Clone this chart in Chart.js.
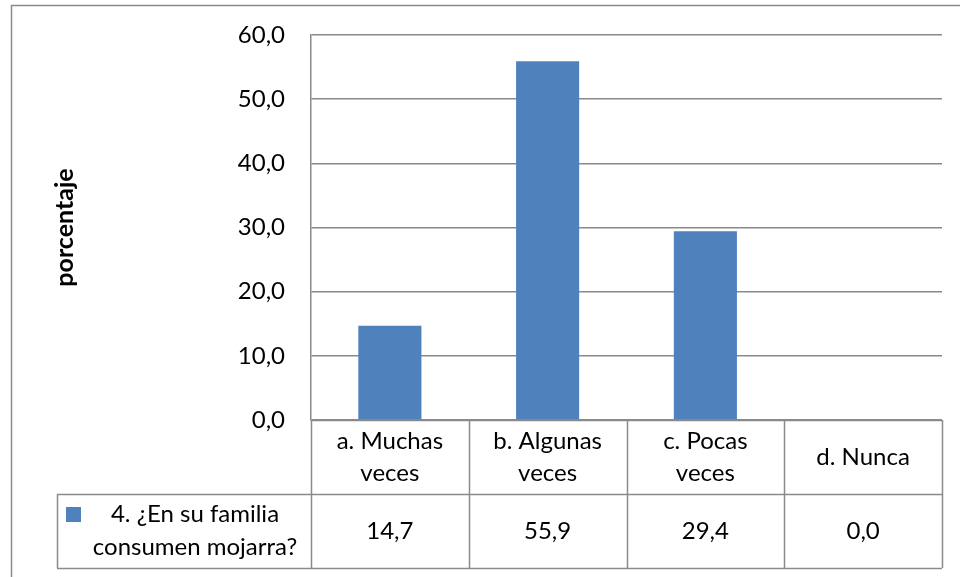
<!DOCTYPE html>
<html>
<head>
<meta charset="utf-8">
<script src="https://cdn.jsdelivr.net/npm/chart.js@4/dist/chart.umd.min.js"></script>
<style>
  html, body { margin: 0; padding: 0; background: #ffffff; }
  #wrap { width: 960px; height: 577px; position: relative; }
</style>
</head>
<body>
<div id="wrap"><canvas id="c" width="960" height="577"></canvas></div>
<script>
// Survey answers and their percentages
const categories = [
  ['a. Muchas', 'veces'],
  ['b. Algunas', 'veces'],
  ['c. Pocas', 'veces'],
  'd. Nunca'
];
const seriesName = ['4. ¿En su familia', 'consumen mojarra?'];
const values = [14.7, 55.9, 29.4, 0.0];
const yTicks = [0, 10, 20, 30, 40, 50, 60];
const yTitle = 'porcentaje';

const FONT = 'Lato, "Open Sans", sans-serif';
const FSIZE = 24;
const LINE = '#8a8a8a';
const BAR = '#4F81BD';

const fmt = v => v.toFixed(1).replace('.', ',');

// Outer chart frame (runs past the right and bottom edges)
const framePlugin = {
  id: 'frame',
  beforeDraw(chart) {
    const ctx = chart.ctx;
    ctx.save();
    ctx.strokeStyle = LINE;
    ctx.lineWidth = 1.5;
    ctx.strokeRect(11.5, 5.5, 1000, 1000);
    ctx.restore();
  }
};

// Data table beneath the plot: grid, legend key and the values row
const tablePlugin = {
  id: 'dataTable',
  afterDraw(chart) {
    const ctx = chart.ctx;
    const x = chart.scales.x;
    const area = chart.chartArea;
    const top = area.bottom;
    const mid = top + 74;
    const bot = mid + 74;
    const legendLeft = 57;
    const n = categories.length;
    const step = (area.right - area.left) / n;

    ctx.save();
    ctx.strokeStyle = LINE;
    ctx.lineWidth = 1.5;
    ctx.beginPath();
    // vertical separators between categories
    for (let i = 0; i <= n; i++) {
      const px = Math.round(area.left + i * step) + 0.5;
      ctx.moveTo(px, top);
      ctx.lineTo(px, bot);
    }
    // legend cell left edge
    ctx.moveTo(legendLeft + 0.5, mid);
    ctx.lineTo(legendLeft + 0.5, bot);
    // horizontal rules
    ctx.moveTo(area.left, top + 0.5);
    ctx.lineTo(area.right, top + 0.5);
    ctx.moveTo(legendLeft, mid + 0.5);
    ctx.lineTo(area.right, mid + 0.5);
    ctx.moveTo(legendLeft, bot + 0.5);
    ctx.lineTo(area.right, bot + 0.5);
    ctx.stroke();

    // legend key
    ctx.fillStyle = BAR;
    ctx.fillRect(66, 507, 15, 15);

    ctx.fillStyle = '#000000';
    ctx.font = FSIZE + 'px ' + FONT;
    ctx.textAlign = 'center';
    ctx.textBaseline = 'middle';
    ctx.fillText(seriesName[0], 195, 514);
    ctx.fillText(seriesName[1], 195, 547);

    // values row
    values.forEach((v, i) => {
      ctx.fillText(fmt(v), x.getPixelForValue(i), (mid + bot) / 2);
    });
    ctx.restore();
  }
};

new Chart(document.getElementById('c'), {
  type: 'bar',
  data: {
    labels: categories,
    datasets: [{
      label: seriesName.join(' '),
      data: values,
      backgroundColor: BAR,
      borderWidth: 0,
      categoryPercentage: 1.0,
      barPercentage: 0.4
    }]
  },
  options: {
    responsive: false,
    animation: false,
    devicePixelRatio: 1,
    layout: { padding: { left: 12, top: 35, right: 18, bottom: 0 } },
    plugins: {
      legend: { display: false },
      tooltip: { enabled: false }
    },
    scales: {
      x: {
        grid: { display: false, drawTicks: false },
        border: { display: false },
        ticks: {
          color: '#000000',
          font: { family: FONT, size: FSIZE, lineHeight: 1.35 },
          maxRotation: 0,
          autoSkip: false,
          padding: 21,
          crossAlign: 'center'
        },
        afterFit(scale) { scale.height = 157; }
      },
      y: {
        min: 0,
        max: 60,
        afterBuildTicks(scale) { scale.ticks = yTicks.map(v => ({ value: v })); },
        grid: { color: LINE, lineWidth: 1.5, drawTicks: false },
        border: { display: true, color: LINE, width: 1.5 },
        ticks: {
          color: '#000000',
          font: { family: FONT, size: FSIZE },
          padding: 26,
          callback: v => fmt(v)
        },
        title: {
          display: true,
          text: yTitle,
          color: '#000000',
          font: { family: FONT, size: 25, weight: 'bold' },
          padding: { top: 38, bottom: 0 }
        },
        afterFit(scale) {
          scale.width = 299;
          scale.paddingTop = 0;
          scale.paddingBottom = 0;
        }
      }
    }
  },
  plugins: [framePlugin, tablePlugin]
});
</script>
</body>
</html>
